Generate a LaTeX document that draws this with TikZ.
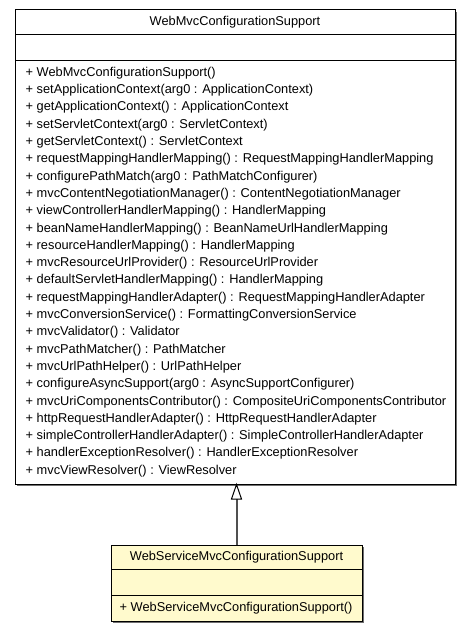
\documentclass[tikz,border=0pt]{standalone}
\usepackage{fontspec}
\setmainfont{Liberation Sans}
\definecolor{fillyellow}{HTML}{FFFACD}
\definecolor{shadowgrey}{HTML}{6F6F6F}
\definecolor{arrowgrey}{HTML}{505050}
\begin{document}
\begin{tikzpicture}[x=1pt,y=-1pt,
  classbox/.style={draw=black,line width=1pt},
  shadowline/.style={draw=shadowgrey,line width=1.5pt},
  member/.style={anchor=west,inner sep=0pt,font=\fontsize{12.8}{14}\selectfont},
  title/.style={anchor=center,inner sep=0pt,font=\fontsize{12.8}{14}\selectfont},
  inherit/.style={draw=arrowgrey,line width=2pt},
  tri/.style={draw=black,fill=white,line width=1pt}]
\useasboundingbox (0,0) rectangle (472,631);
% ---- top class ----
\coordinate (tA) at (15,10);
\coordinate (tB) at (455,484);
\draw[shadowline] (456.5,12) -- (456.5,485.5) -- (17,485.5);
\filldraw[classbox,fill=white] (tA) rectangle (tB);
\draw[classbox] (15,35) -- (455,35);
\draw[classbox] (15,61) -- (455,61);
\node[title] (ttitle) at (235,22.5) {WebMvcConfigurationSupport};
\foreach \t [count=\i from 0] in {
 {+ WebMvcConfigurationSupport()},
 {+ setApplicationContext(arg0 : ApplicationContext)},
 {+ getApplicationContext() : ApplicationContext},
 {+ setServletContext(arg0 : ServletContext)},
 {+ getServletContext() : ServletContext},
 {+ requestMappingHandlerMapping() : RequestMappingHandlerMapping},
 {+ configurePathMatch(arg0 : PathMatchConfigurer)},
 {+ mvcContentNegotiationManager() : ContentNegotiationManager},
 {+ viewControllerHandlerMapping() : HandlerMapping},
 {+ beanNameHandlerMapping() : BeanNameUrlHandlerMapping},
 {+ resourceHandlerMapping() : HandlerMapping},
 {+ mvcResourceUrlProvider() : ResourceUrlProvider},
 {+ defaultServletHandlerMapping() : HandlerMapping},
 {+ requestMappingHandlerAdapter() : RequestMappingHandlerAdapter},
 {+ mvcConversionService() : FormattingConversionService},
 {+ mvcValidator() : Validator},
 {+ mvcPathMatcher() : PathMatcher},
 {+ mvcUrlPathHelper() : UrlPathHelper},
 {+ configureAsyncSupport(arg0 : AsyncSupportConfigurer)},
 {+ mvcUriComponentsContributor() : CompositeUriComponentsContributor},
 {+ httpRequestHandlerAdapter() : HttpRequestHandlerAdapter},
 {+ simpleControllerHandlerAdapter() : SimpleControllerHandlerAdapter},
 {+ handlerExceptionResolver() : HandlerExceptionResolver},
 {+ mvcViewResolver() : ViewResolver}}
  \node[member] (m\i) at (25.5,{73+17.3*\i}) {\t};
% ---- bottom class ----
\draw[shadowline] (363.5,547) -- (363.5,622.5) -- (113,622.5);
\filldraw[classbox,fill=fillyellow] (111,545) rectangle (362,621);
\draw[classbox] (111,569) -- (362,569);
\draw[classbox] (111,595.5) -- (362,595.5);
\node[title] (btitle) at (236.5,557) {WebServiceMvcConfigurationSupport};
\node[member] (bm) at (119.5,608) {+ WebServiceMvcConfigurationSupport()};
% ---- generalization ----
\coordinate (top) at (236.5,545);
\coordinate (tip) at (236.5,484.5);
\coordinate (base) at (236.5,499);
\draw[inherit] (top) -- (base);
\draw[tri] (tip) -- (231.5,499) -- (241.5,499) -- cycle;
\end{tikzpicture}
\end{document}
